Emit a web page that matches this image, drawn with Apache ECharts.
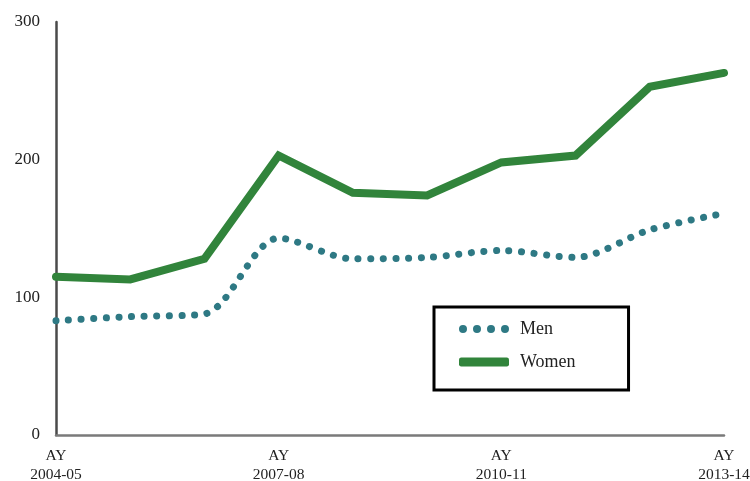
<!DOCTYPE html>
<html><head><meta charset="utf-8">
<script src="https://cdn.jsdelivr.net/npm/echarts@6/dist/echarts.min.js"></script>
<style>html,body{margin:0;padding:0;background:#fff}#c{width:750px;height:481px}</style>
</head><body><div id="c"></div>
<script>
var categories = ["AY\n2004-05","AY\n2005-06","AY\n2006-07","AY\n2007-08","AY\n2008-09","AY\n2009-10","AY\n2010-11","AY\n2011-12","AY\n2012-13","AY\n2013-14"];
var men = [83, 86, 88, 143, 128, 129, 134, 129, 149, 161];
var women = [115, 113, 128, 203, 176, 174, 198, 203, 253, 263];
var yTicks = [0, 100, 200, 300];

var font = "'Liberation Serif', 'DejaVu Serif', serif";
var dotsIcon = 'path://M0,4a4,4 0 1,0 8,0a4,4 0 1,0 -8,0z' +
  'M14,4a4,4 0 1,0 8,0a4,4 0 1,0 -8,0z' +
  'M28,4a4,4 0 1,0 8,0a4,4 0 1,0 -8,0z' +
  'M42,4a4,4 0 1,0 8,0a4,4 0 1,0 -8,0z';
var menColor = '#2e7984', womenColor = '#31843b';
var chart = echarts.init(document.getElementById('c'));
chart.setOption({
  animation: false,
  backgroundColor: '#fff',
  grid: {left: 56, right: 26, top: 22, bottom: 46, outerBoundsMode: 'none', containLabel: false},
  xAxis: {
    type: 'category', data: categories, boundaryGap: false,
    axisLine: {lineStyle: {color: '#7a7a7a', width: 2.5}},
    axisTick: {show: false},
    axisLabel: {interval: 2, color: '#222', fontFamily: font, fontSize: 15.5, lineHeight: 19, margin: 11}
  },
  yAxis: {
    type: 'value', min: yTicks[0], max: yTicks[yTicks.length-1], interval: 100,
    axisLine: {show: true, lineStyle: {color: '#4a4a4a', width: 2.5}},
    axisTick: {show: false},
    splitLine: {show: false},
    axisLabel: {color: '#222', fontFamily: font, fontSize: 17, margin: 16}
  },
  legend: {
    orient: 'vertical', left: 434, top: 307,
    data: [{name: 'Men', icon: dotsIcon}, {name: 'Women', icon: 'roundRect'}],
    itemWidth: 50, itemHeight: 9, itemGap: 15,
    padding: [13, 53, 19, 25],
    borderColor: '#000', borderWidth: 3,
    itemStyle: {borderWidth: 0},
    textStyle: {fontFamily: font, fontSize: 18, color: '#222', padding: [0, 0, 0, 6]}
  },
  series: [
    {name: 'Men', type: 'line', data: men, smooth: 0.3, symbol: 'none',
     itemStyle: {color: menColor},
     lineStyle: {color: menColor, width: 7, type: [0.1, 12.5], cap: 'round'}},
    {name: 'Women', type: 'line', data: women, symbol: 'none',
     itemStyle: {color: womenColor},
     lineStyle: {color: womenColor, width: 8, cap: 'round', join: 'miter'}}
  ]
});
</script></body></html>
